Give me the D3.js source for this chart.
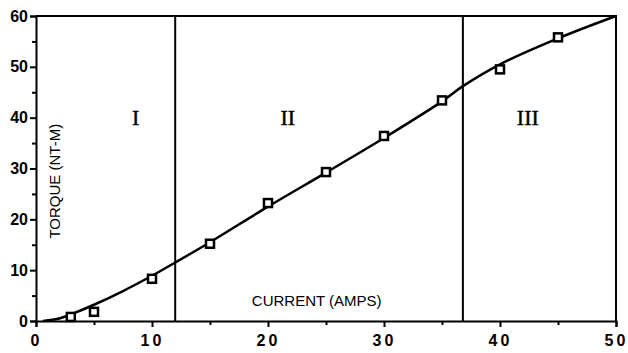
<!DOCTYPE html>
<html>
<head>
<meta charset="utf-8">
<script src="https://cdn.jsdelivr.net/npm/d3@7"></script>
<style>
  body { margin: 0; background: #fff; }
  svg { display: block; }
</style>
</head>
<body>
<div id="chart"></div>
<script>
// measured points (squares)
const pointCurrent = [3, 5, 10, 15, 20, 25, 30, 35, 40, 45];
const pointTorque = [0.8, 1.8, 8.3, 15.2, 23.2, 29.3, 36.4, 43.4, 49.5, 55.8];

// fitted curve
const curveCurrent = [0.6, 2, 3, 5, 7.5, 10, 12, 15, 20, 25, 30, 35, 36.8, 40, 45, 50];
const curveTorque = [0, 0.5, 1.3, 3.2, 5.9, 8.9, 11.5, 15.5, 22.5, 29.2, 36.0, 43.2, 46.2, 50.5, 55.6, 60];

// region boundaries and labels
const boundaries = [12, 36.8];
const regionLabels = ['I', 'II', 'III'];
const regionCenters = [8.6, 21.7, 42.4];

const xTicks = [0, 10, 20, 30, 40, 50];
const yTicks = [0, 10, 20, 30, 40, 50, 60];

const W = 628, H = 353;
const margin = { top: 16, right: 12, bottom: 32, left: 36 };

const svg = d3.select('#chart').append('svg')
  .attr('width', W)
  .attr('height', H);

const x = d3.scaleLinear().domain([0, 50]).range([margin.left, W - margin.right]);
const y = d3.scaleLinear().domain([0, 60]).range([H - margin.bottom, margin.top]);

// frame (top + right)
svg.append('path')
  .attr('d', `M${x(0)},${y(60)}H${x(50)}V${y(0)}`)
  .attr('fill', 'none')
  .attr('stroke', '#000')
  .attr('stroke-width', 2);

// x axis
const xAxis = svg.append('g')
  .attr('transform', `translate(0, ${y(0)})`)
  .call(d3.axisBottom(x).tickValues(xTicks).tickSize(6).tickFormat(d3.format('d')));
svg.append('g')
  .attr('transform', `translate(0, ${y(0)})`)
  .call(d3.axisBottom(x).tickValues(d3.range(5, 50, 10)).tickSize(4).tickFormat(''))
  .call(g => g.select('.domain').remove());

// y axis
const yAxis = svg.append('g')
  .attr('transform', `translate(${x(0)}, 0)`)
  .call(d3.axisLeft(y).tickValues(yTicks).tickSize(6).tickFormat(d3.format('d')));
svg.append('g')
  .attr('transform', `translate(${x(0)}, 0)`)
  .call(d3.axisLeft(y).tickValues(d3.range(5, 60, 10)).tickSize(4).tickFormat(''))
  .call(g => g.select('.domain').remove());

svg.selectAll('.domain').attr('stroke-width', 2);
svg.selectAll('.tick line').attr('stroke-width', 2);

xAxis.selectAll('text')
  .attr('font-family', 'Liberation Sans, Arial, sans-serif')
  .attr('font-weight', 'bold')
  .attr('font-size', 16)
  .attr('letter-spacing', 3)
  .attr('dy', '1em');

yAxis.selectAll('text')
  .attr('font-family', 'Liberation Sans, Arial, sans-serif')
  .attr('font-weight', 'bold')
  .attr('font-size', 16)
  .attr('x', -8);

// region boundaries
svg.selectAll('.boundary')
  .data(boundaries)
  .enter().append('line')
  .attr('class', 'boundary')
  .attr('x1', d => x(d)).attr('x2', d => x(d))
  .attr('y1', y(60)).attr('y2', y(0))
  .attr('stroke', '#000')
  .attr('stroke-width', 2);

// region labels
svg.selectAll('.region')
  .data(regionLabels)
  .enter().append('text')
  .attr('class', 'region')
  .attr('x', (d, i) => x(regionCenters[i]))
  .attr('y', y(38.5))
  .attr('text-anchor', 'middle')
  .attr('font-family', 'Liberation Serif, Times New Roman, serif')
  .attr('font-size', 22)
  .attr('stroke', '#000')
  .attr('stroke-width', 0.4)
  .text(d => d);

// curve
const curveData = curveCurrent.map((c, i) => ({ c: c, t: curveTorque[i] }));
const line = d3.line()
  .x(d => x(d.c))
  .y(d => y(d.t))
  .curve(d3.curveCatmullRom);

svg.append('path')
  .datum(curveData)
  .attr('d', line)
  .attr('fill', 'none')
  .attr('stroke', '#000')
  .attr('stroke-width', 2.5);

// squares
const pts = pointCurrent.map((c, i) => ({ c: c, t: pointTorque[i] }));
const sq = 8;
svg.selectAll('.pt')
  .data(pts)
  .enter().append('rect')
  .attr('class', 'pt')
  .attr('x', d => x(d.c) - sq / 2)
  .attr('y', d => y(d.t) - sq / 2)
  .attr('width', sq)
  .attr('height', sq)
  .attr('fill', '#fff')
  .attr('stroke', '#000')
  .attr('stroke-width', 2.5);

// axis titles
svg.append('text')
  .attr('transform', `translate(${x(2.1)}, ${y(27.5)}) rotate(-90)`)
  .attr('text-anchor', 'middle')
  .attr('font-family', 'Liberation Sans Narrow, Arial Narrow, sans-serif')
  .attr('font-size', 15)
  .text('TORQUE (NT-M)');

svg.append('text')
  .attr('x', x(24.2))
  .attr('y', y(3))
  .attr('text-anchor', 'middle')
  .attr('font-family', 'Liberation Sans Narrow, Arial Narrow, sans-serif')
  .attr('font-size', 15)
  .text('CURRENT (AMPS)');
</script>
</body>
</html>
